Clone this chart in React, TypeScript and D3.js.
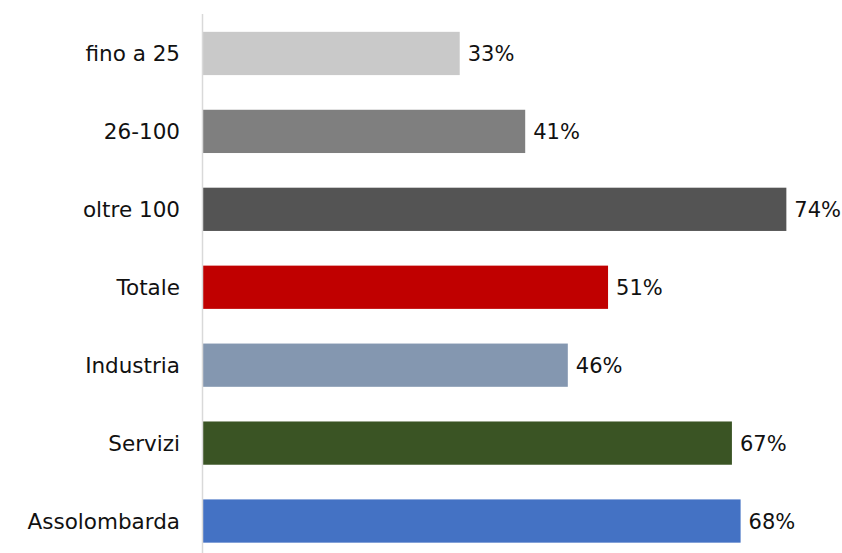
import React from "react";
import * as d3 from "d3";

const categories = ["fino a 25", "26-100", "oltre 100", "Totale", "Industria", "Servizi", "Assolombarda"];
const values = [0.326, 0.409, 0.74, 0.514, 0.463, 0.671, 0.682];
const colors = ["#C9C9C9", "#7F7F7F", "#545454", "#C00000", "#8497B0", "#3A5424", "#4472C4"];

const W = 842;
const H = 553;

export default function App() {
  const y = d3.scaleBand<string>().domain(categories).range([14.5, 560]).paddingInner(0.445).paddingOuter(0.2225);
  const x = d3.scaleLinear().domain([0, 0.8]).range([202.5, 202.5 + 0.8 * 789]);
  const fmt = d3.format(".0%");
  const font = "'DejaVu Sans', sans-serif";
  return (
    <svg width={W} height={H} style={{ position: "absolute", left: 0, top: 0, display: "block" }}>
      <rect width={W} height={H} fill="#fff" />
      {categories.map((c, i) => (
        <g key={c}>
          <rect x={x(0)} y={y(c)!} width={x(values[i]) - x(0)} height={y.bandwidth()} fill={colors[i]} />
          <text x={180} y={y(c)! + y.bandwidth() / 2} dy="0.36em" textAnchor="end" fontFamily={font} fontSize={21.5} fill="#111">{c}</text>
          <text x={x(values[i]) + 8} y={y(c)! + y.bandwidth() / 2} dy="0.36em" textAnchor="start" fontFamily={font} fontSize={21} fill="#111">{fmt(values[i])}</text>
        </g>
      ))}
      <line x1={x(0)} x2={x(0)} y1={14} y2={560} stroke="#D9D9D9" strokeWidth={1.5} />
    </svg>
  );
}
